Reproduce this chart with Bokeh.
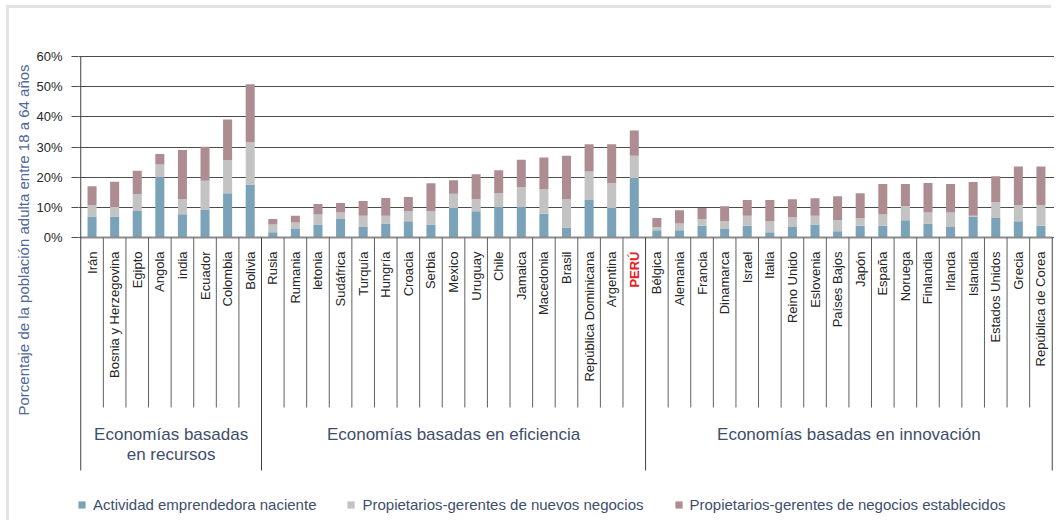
import math
from bokeh.plotting import figure
from bokeh.models import (FactorRange, Range1d, FixedTicker, PrintfTickFormatter,
                          ColumnDataSource, Legend, LegendItem, Title)
from bokeh.core.properties import value
from bokeh.embed import file_html
from bokeh.resources import INLINE

# ---------------- data ----------------
countries = [
    "Irán", "Bosnia y Herzegovina", "Egipto", "Angola", "india", "Ecuador", "Colombia", "Bolivia",
    "Rusia", "Rumania", "letonia", "Sudáfrica", "Turquía", "Hungría", "Croacia", "Serbia", "Mexico",
    "Uruguay", "Chile", "Jamaica", "Macedonia", "Brasil", "República Dominicana", "Argentina", "PERÚ",
    "Bélgica", "Alemania", "Francia", "Dinamarca", "Israel", "Italia", "Reino Unido", "Eslovenia",
    "Países Bajos", "Japón", "España", "Noruega", "Finlandia", "Irlanda", "Islandia",
    "Estados Unidos", "Grecia", "República de Corea",
]
groups = ["Economías basadas\nen recursos", "Economías basadas en eficiencia",
          "Economías basadas en innovación"]
group_sizes = [8, 17, 18]

naciente = [7.0, 7.0, 8.8, 20.0, 7.7, 9.1, 14.7, 17.6,
            1.7, 2.8, 4.3, 6.1, 3.5, 4.6, 5.4, 4.3, 9.8, 8.7, 10.1, 10.1, 7.9, 3.2, 12.4, 9.8, 19.7,
            2.4, 2.4, 3.9, 2.8, 3.9, 1.7, 3.5, 4.3, 2.1, 3.9, 3.9, 5.7, 4.6, 3.5, 7.0, 6.5, 5.4, 3.9]
nuevos = [3.7, 3.1, 5.6, 4.2, 5.0, 9.7, 11.0, 14.0,
          2.6, 2.2, 3.3, 2.2, 3.7, 2.6, 3.3, 4.4, 4.7, 4.0, 4.6, 6.6, 8.1, 9.5, 9.5, 8.2, 7.4,
          1.1, 2.2, 2.2, 2.6, 3.3, 3.7, 3.3, 2.9, 3.6, 2.6, 3.7, 4.7, 3.7, 4.8, 0.2, 5.2, 5.3, 6.8]
establecidos = [6.3, 8.4, 7.7, 3.5, 16.3, 11.3, 13.4, 19.2,
                1.8, 2.2, 3.5, 3.1, 4.9, 5.9, 4.7, 9.3, 4.5, 8.3, 7.6, 9.1, 10.5, 14.4, 9.0, 12.9, 8.4,
                3.0, 4.4, 3.7, 5.0, 5.2, 7.0, 5.9, 5.8, 8.0, 8.2, 10.1, 7.3, 9.8, 9.4, 11.2, 8.6, 12.8, 12.8]

series_keys = ["naciente", "nuevos", "establecidos"]
series_names = ["Actividad emprendedora naciente",
                "Propietarios-gerentes de nuevos negocios",
                "Propietarios-gerentes de negocios establecidos"]
y_ticks = [0, 10, 20, 30, 40, 50, 60]
highlight = "PERÚ"
y_title = "Porcentaje de la población adulta entre 18 a 64 años"

# ---------------- style ----------------
COLORS = ["#7aa3ba", "#c3c3c3", "#ae8d92"]
FONT = "Liberation Sans"
TEXT_DARK = "#262626"
TEXT_BLUE = "#404e6c"
GRID = "#4d4d4d"

# page offset of the plot element (a thin light-grey frame sits just outside it)
OFF_X, OFF_Y = 9, 8

# page-pixel -> data helper (0% at page y 237, 60% at page y 56)
Y0_PX = 237.0
PX_PER_UNIT = (237.0 - 56.0) / 60.0


def py(page_y):
    return (Y0_PX - page_y) / PX_PER_UNIT


FRAME_LEFT, FRAME_TOP, FRAME_BOTTOM = 78, 50, 523

p = figure(width=1054 - OFF_X, height=FRAME_BOTTOM - OFF_Y, title=None,
           x_range=FactorRange(factors=countries, range_padding=0.1,
                               range_padding_units="absolute"),
           y_range=Range1d(py(FRAME_BOTTOM), py(FRAME_TOP)),
           output_backend="svg", toolbar_location=None, x_axis_location=None,
           min_border_left=FRAME_LEFT - OFF_X, min_border_right=0,
           min_border_top=FRAME_TOP - OFF_Y, min_border_bottom=0)
p.margin = (OFF_Y, 0, 0, OFF_X)
p.styles = {"box-shadow": "-3px -3px 0 0 #e3e3e3"}
p.outline_line_color = None
p.background_fill_color = "white"
p.border_fill_color = "white"

# y axis
p.yaxis.ticker = FixedTicker(ticks=y_ticks)
p.yaxis.formatter = PrintfTickFormatter(format="%d%%")
p.yaxis.axis_line_color = None
p.yaxis.major_tick_in = 0
p.yaxis.major_tick_out = 7
p.yaxis.major_tick_line_color = GRID
p.yaxis.minor_tick_line_color = None
p.yaxis.major_label_text_font = FONT
p.yaxis.major_label_text_font_size = "13px"
p.yaxis.major_label_text_color = TEXT_DARK
p.yaxis.major_label_standoff = 9
p.ygrid.grid_line_color = GRID
p.ygrid.grid_line_width = 1
p.xgrid.visible = False

# y title (left side, starting near the bottom of the category area)
p.add_layout(Title(text=y_title, align="left", offset=FRAME_BOTTOM - 415,
                   text_font=FONT, text_font_size="15px", text_font_style="normal",
                   text_color="#51679a", standoff=4), "left")

# bars
src = ColumnDataSource(dict(pais=countries, naciente=naciente, nuevos=nuevos,
                            establecidos=establecidos))
rs = p.vbar_stack(series_keys, x="pais", width=0.4, fill_color=COLORS,
                  line_color=None, source=src)

# baseline
n = len(countries)
p.segment(x0=[0], y0=[0], x1=[n], y1=[0], line_color="#8c8c8c", line_width=2)

# separators
bounds = [0]
for g in group_sizes:
    bounds.append(bounds[-1] + g)
inner = [i for i in range(1, n) if i not in bounds]
p.segment(x0=inner, y0=[0] * len(inner), x1=inner, y1=[py(407)] * len(inner),
          line_color="#606060", line_width=1)
p.segment(x0=bounds, y0=[0] * len(bounds), x1=bounds, y1=[py(470)] * len(bounds),
          line_color="#404040", line_width=1)
p.segment(x0=[0], y0=[0], x1=[0], y1=[y_ticks[-1]], line_color="#404040", line_width=1)

# category labels
lab_src = ColumnDataSource(dict(
    x=countries, text=countries,
    color=["#e8201f" if c == highlight else TEXT_DARK for c in countries],
    style=["bold" if c == highlight else "normal" for c in countries]))
p.text(x="x", y=py(251), text="text", source=lab_src, angle=math.pi / 2,
       text_align="right", text_baseline="middle", text_font=value(FONT),
       text_font_size="13px", text_color="color", text_font_style="style")

# group labels
centers = [(bounds[i] + bounds[i + 1]) / 2 for i in range(len(groups))]
p.text(x=centers, y=[py(424)] * len(groups), text=groups, text_align="center",
       text_baseline="top", text_font=value(FONT), text_font_size="17px",
       text_color=TEXT_BLUE, text_line_height=1.08)

# legend
legend = Legend(items=[LegendItem(label=series_names[i], renderers=[rs[i]]) for i in range(3)],
                location=(-1, 10), orientation="horizontal", border_line_color=None,
                background_fill_alpha=0, padding=0, margin=0, spacing=30, label_standoff=7,
                glyph_width=9, glyph_height=9, label_text_font=FONT,
                label_text_font_size="15px", label_text_color=TEXT_BLUE)
p.add_layout(legend)

open("out.html", "w").write(file_html(p, INLINE))
